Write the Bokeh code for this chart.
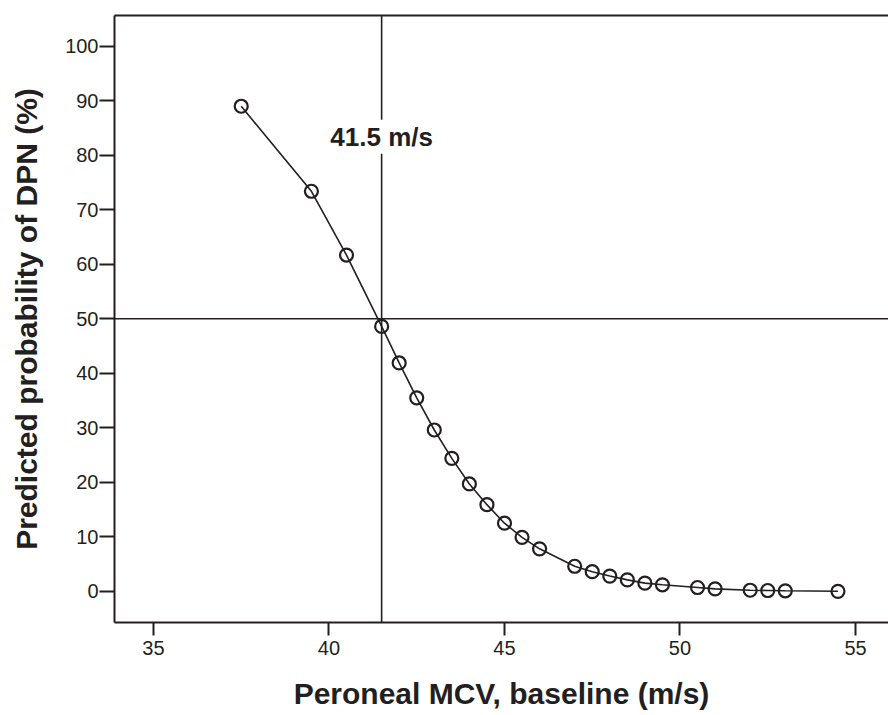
from bokeh.plotting import figure
from bokeh.models import Span, Label, LinearAxis, FixedTicker, Range1d
from bokeh.embed import file_html
from bokeh.resources import INLINE

# ---- data ----
mcv = [37.5, 39.5, 40.5, 41.5, 42.0, 42.5, 43.0, 43.5, 44.0, 44.5, 45.0, 45.5, 46.0,
       47.0, 47.5, 48.0, 48.5, 49.0, 49.5, 50.5, 51.0, 52.0, 52.5, 53.0, 54.5]
prob = [89.0, 73.4, 61.7, 48.6, 41.9, 35.5, 29.6, 24.4, 19.7, 15.9, 12.5, 9.9, 7.8,
        4.6, 3.6, 2.8, 2.1, 1.5, 1.2, 0.7, 0.45, 0.2, 0.15, 0.1, 0.0]
cutoff_mcv = 41.5
cutoff_prob = 50
cutoff_label = "41.5 m/s"
label_y = 83.4
x_ticks = [35, 40, 45, 50, 55]
y_ticks = [0, 10, 20, 30, 40, 50, 60, 70, 80, 90, 100]
x_title = "Peroneal MCV, baseline (m/s)"
y_title = "Predicted probability of DPN (%)"

INK = "#231f20"
FONT = "Liberation Sans"

p = figure(width=888, height=715, output_backend="svg", toolbar_location=None,
           x_range=Range1d(33.89, 55.94), y_range=Range1d(-5.72, 105.65),
           min_border_left=114, min_border_right=0, min_border_top=15, min_border_bottom=93)
p.outline_line_color = None
p.xgrid.visible = False
p.ygrid.visible = False
p.background_fill_color = "white"
p.border_fill_color = "white"

for ax in (p.xaxis[0], p.yaxis[0]):
    ax.axis_line_color = INK
    ax.axis_line_width = 2
    ax.major_tick_line_color = INK
    ax.major_tick_line_width = 2
    ax.major_tick_in = 0
    ax.minor_tick_line_color = None
    ax.major_label_text_font = FONT
    ax.major_label_text_font_size = "20px"
    ax.major_label_text_color = INK
    ax.axis_label_text_font = FONT
    ax.axis_label_text_font_style = "bold"
    ax.axis_label_text_color = INK

p.xaxis[0].ticker = FixedTicker(ticks=x_ticks)
p.yaxis[0].ticker = FixedTicker(ticks=y_ticks)
p.xaxis[0].axis_label = x_title
p.yaxis[0].axis_label = y_title
p.xaxis[0].major_tick_out = 13
p.yaxis[0].major_tick_out = 15
p.xaxis[0].major_label_standoff = 5
p.yaxis[0].major_label_standoff = 1
p.xaxis[0].axis_label_text_font_size = "30px"
p.yaxis[0].axis_label_text_font_size = "30px"
p.xaxis[0].axis_label_standoff = 19
p.yaxis[0].axis_label_standoff = 19

top = LinearAxis(ticker=FixedTicker(ticks=[]), major_label_text_font_size="0px",
                 major_tick_out=0, major_tick_in=0, major_label_standoff=0,
                 axis_line_color=INK, axis_line_width=2, minor_tick_line_color=None)
p.add_layout(top, "above")

p.add_layout(Span(location=cutoff_mcv, dimension="height", line_color=INK, line_width=1.6))
p.add_layout(Span(location=cutoff_prob, dimension="width", line_color=INK, line_width=1.6))

p.line(mcv, prob, line_color=INK, line_width=1.6)
p.scatter(mcv, prob, marker="circle", size=13, fill_color=None, line_color=INK, line_width=2.2)

p.add_layout(Label(x=cutoff_mcv, y=label_y, text=cutoff_label, text_align="center",
                   text_baseline="middle", text_font=FONT, text_font_size="26px",
                   text_font_style="bold", text_color=INK,
                   background_fill_color="white", padding=2))

open("out.html", "w").write(file_html(p, INLINE))
